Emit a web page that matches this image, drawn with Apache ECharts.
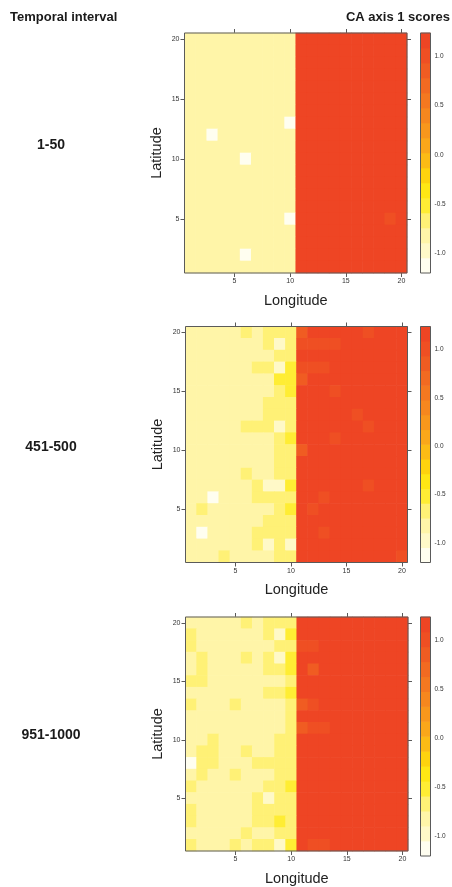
<!DOCTYPE html>
<html>
<head>
<meta charset="utf-8">
<script src="https://cdn.jsdelivr.net/npm/echarts@6/dist/echarts.min.js"></script>
<style>
  html, body { margin: 0; padding: 0; background: #ffffff; }
  #main { width: 452px; height: 887px; }
</style>
</head>
<body>
<div id="main"></div>
<script>
// Temporal intervals shown, one heat map per interval
const intervals = ['1-50', '451-500', '951-1000'];

// Grid cell coordinates
const longitudes = ['1','2','3','4','5','6','7','8','9','10','11','12','13','14','15','16','17','18','19','20'];
const latitudes  = ['1','2','3','4','5','6','7','8','9','10','11','12','13','14','15','16','17','18','19','20'];

// CA axis 1 scores, one row per latitude from 20 (first) down to 1 (last), longitudes 1..20
const scoresEarly = [
  [-0.82,-0.82,-0.82,-0.82,-0.82,-0.82,-0.82,-0.82,-0.82,-0.82, 1.16,1.16,1.16,1.16,1.16,1.16,1.16,1.16,1.16,1.16],
  [-0.82,-0.82,-0.82,-0.82,-0.82,-0.82,-0.82,-0.82,-0.82,-0.82, 1.16,1.16,1.16,1.16,1.16,1.16,1.16,1.16,1.16,1.16],
  [-0.82,-0.82,-0.82,-0.82,-0.82,-0.82,-0.82,-0.82,-0.82,-0.82, 1.16,1.16,1.16,1.16,1.16,1.16,1.16,1.16,1.16,1.16],
  [-0.82,-0.82,-0.82,-0.82,-0.82,-0.82,-0.82,-0.82,-0.82,-0.82, 1.16,1.16,1.16,1.16,1.16,1.16,1.16,1.16,1.16,1.16],
  [-0.82,-0.82,-0.82,-0.82,-0.82,-0.82,-0.82,-0.82,-0.82,-0.82, 1.16,1.16,1.16,1.16,1.16,1.16,1.16,1.16,1.16,1.16],
  [-0.82,-0.82,-0.82,-0.82,-0.82,-0.82,-0.82,-0.82,-0.82,-0.82, 1.16,1.16,1.16,1.16,1.16,1.16,1.16,1.16,1.16,1.16],
  [-0.82,-0.82,-0.82,-0.82,-0.82,-0.82,-0.82,-0.82,-0.82,-0.82, 1.16,1.16,1.16,1.16,1.16,1.16,1.16,1.16,1.16,1.16],
  [-0.82,-0.82,-0.82,-0.82,-0.82,-0.82,-0.82,-0.82,-0.82,-1.12, 1.16,1.16,1.16,1.16,1.16,1.16,1.16,1.16,1.16,1.16],
  [-0.82,-0.82,-1.12,-0.82,-0.82,-0.82,-0.82,-0.82,-0.82,-0.82, 1.16,1.16,1.16,1.16,1.16,1.16,1.16,1.16,1.16,1.16],
  [-0.82,-0.82,-0.82,-0.82,-0.82,-0.82,-0.82,-0.82,-0.82,-0.82, 1.16,1.16,1.16,1.16,1.16,1.16,1.16,1.16,1.16,1.16],
  [-0.82,-0.82,-0.82,-0.82,-0.82,-1.12,-0.82,-0.82,-0.82,-0.82, 1.16,1.16,1.16,1.16,1.16,1.16,1.16,1.16,1.16,1.16],
  [-0.82,-0.82,-0.82,-0.82,-0.82,-0.82,-0.82,-0.82,-0.82,-0.82, 1.16,1.16,1.16,1.16,1.16,1.16,1.16,1.16,1.16,1.16],
  [-0.82,-0.82,-0.82,-0.82,-0.82,-0.82,-0.82,-0.82,-0.82,-0.82, 1.16,1.16,1.16,1.16,1.16,1.16,1.16,1.16,1.16,1.16],
  [-0.82,-0.82,-0.82,-0.82,-0.82,-0.82,-0.82,-0.82,-0.82,-0.82, 1.16,1.16,1.16,1.16,1.16,1.16,1.16,1.16,1.16,1.16],
  [-0.82,-0.82,-0.82,-0.82,-0.82,-0.82,-0.82,-0.82,-0.82,-0.82, 1.16,1.16,1.16,1.16,1.16,1.16,1.16,1.16,1.16,1.16],
  [-0.82,-0.82,-0.82,-0.82,-0.82,-0.82,-0.82,-0.82,-0.82,-1.12, 1.16,1.16,1.16,1.16,1.16,1.16,1.16,1.16,1.01,1.16],
  [-0.82,-0.82,-0.82,-0.82,-0.82,-0.82,-0.82,-0.82,-0.82,-0.82, 1.16,1.16,1.16,1.16,1.16,1.16,1.16,1.16,1.16,1.16],
  [-0.82,-0.82,-0.82,-0.82,-0.82,-0.82,-0.82,-0.82,-0.82,-0.82, 1.16,1.16,1.16,1.16,1.16,1.16,1.16,1.16,1.16,1.16],
  [-0.82,-0.82,-0.82,-0.82,-0.82,-1.12,-0.82,-0.82,-0.82,-0.82, 1.16,1.16,1.16,1.16,1.16,1.16,1.16,1.16,1.16,1.16],
  [-0.82,-0.82,-0.82,-0.82,-0.82,-0.82,-0.82,-0.82,-0.82,-0.82, 1.16,1.16,1.16,1.16,1.16,1.16,1.16,1.16,1.16,1.16]
];

const scoresMid = [
  [-0.82,-0.82,-0.82,-0.82,-0.82,-0.67,-0.82,-0.67,-0.67,-0.67, 0.86,1.16,1.16,1.16,1.16,1.16,1.01,1.16,1.16,1.16],
  [-0.82,-0.82,-0.82,-0.82,-0.82,-0.82,-0.82,-0.67,-0.97,-0.67, 1.01,1.01,1.01,1.01,1.16,1.16,1.16,1.16,1.16,1.16],
  [-0.82,-0.82,-0.82,-0.82,-0.82,-0.82,-0.82,-0.82,-0.67,-0.67, 1.16,1.16,1.16,1.16,1.16,1.16,1.16,1.16,1.16,1.16],
  [-0.82,-0.82,-0.82,-0.82,-0.82,-0.82,-0.67,-0.67,-0.97,-0.52, 1.01,1.01,1.01,1.16,1.16,1.16,1.16,1.16,1.16,1.16],
  [-0.82,-0.82,-0.82,-0.82,-0.82,-0.82,-0.82,-0.82,-0.52,-0.52, 0.86,1.16,1.16,1.16,1.16,1.16,1.16,1.16,1.16,1.16],
  [-0.82,-0.82,-0.82,-0.82,-0.82,-0.82,-0.82,-0.82,-0.67,-0.52, 1.16,1.16,1.16,1.01,1.16,1.16,1.16,1.16,1.16,1.16],
  [-0.82,-0.82,-0.82,-0.82,-0.82,-0.82,-0.82,-0.67,-0.67,-0.67, 1.16,1.16,1.16,1.16,1.16,1.16,1.16,1.16,1.16,1.16],
  [-0.82,-0.82,-0.82,-0.82,-0.82,-0.82,-0.82,-0.67,-0.67,-0.67, 1.16,1.16,1.16,1.16,1.16,1.01,1.16,1.16,1.16,1.16],
  [-0.82,-0.82,-0.82,-0.82,-0.82,-0.67,-0.67,-0.67,-0.97,-0.67, 1.16,1.16,1.16,1.16,1.16,1.16,1.01,1.16,1.16,1.16],
  [-0.82,-0.82,-0.82,-0.82,-0.82,-0.82,-0.82,-0.82,-0.67,-0.52, 1.16,1.16,1.16,1.01,1.16,1.16,1.16,1.16,1.16,1.16],
  [-0.82,-0.82,-0.82,-0.82,-0.82,-0.82,-0.82,-0.82,-0.67,-0.67, 0.86,1.16,1.16,1.16,1.16,1.16,1.16,1.16,1.16,1.16],
  [-0.82,-0.82,-0.82,-0.82,-0.82,-0.82,-0.82,-0.82,-0.67,-0.67, 1.16,1.16,1.16,1.16,1.16,1.16,1.16,1.16,1.16,1.16],
  [-0.82,-0.82,-0.82,-0.82,-0.82,-0.67,-0.82,-0.82,-0.67,-0.67, 1.16,1.16,1.16,1.16,1.16,1.16,1.16,1.16,1.16,1.16],
  [-0.82,-0.82,-0.82,-0.82,-0.82,-0.82,-0.67,-0.97,-0.97,-0.52, 1.16,1.16,1.16,1.16,1.16,1.16,1.01,1.16,1.16,1.16],
  [-0.82,-0.82,-1.12,-0.82,-0.82,-0.82,-0.67,-0.67,-0.67,-0.67, 1.16,1.16,1.01,1.16,1.16,1.16,1.16,1.16,1.16,1.16],
  [-0.82,-0.67,-0.82,-0.82,-0.82,-0.82,-0.82,-0.82,-0.67,-0.52, 1.16,1.01,1.16,1.16,1.16,1.16,1.16,1.16,1.16,1.16],
  [-0.82,-0.82,-0.82,-0.82,-0.82,-0.82,-0.82,-0.67,-0.67,-0.67, 1.16,1.16,1.16,1.16,1.16,1.16,1.16,1.16,1.16,1.16],
  [-0.82,-1.12,-0.82,-0.82,-0.82,-0.82,-0.67,-0.67,-0.67,-0.67, 1.16,1.16,1.01,1.16,1.16,1.16,1.16,1.16,1.16,1.16],
  [-0.82,-0.82,-0.82,-0.82,-0.82,-0.82,-0.67,-0.97,-0.67,-0.97, 1.16,1.16,1.16,1.16,1.16,1.16,1.16,1.16,1.16,1.16],
  [-0.82,-0.82,-0.82,-0.67,-0.82,-0.82,-0.82,-0.82,-0.67,-0.67, 1.16,1.16,1.16,1.16,1.16,1.16,1.16,1.16,1.16,1.01]
];

const scoresLate = [
  [-0.82,-0.82,-0.82,-0.82,-0.82,-0.67,-0.82,-0.67,-0.67,-0.67, 1.16,1.16,1.16,1.16,1.16,1.16,1.16,1.16,1.16,1.16],
  [-0.67,-0.82,-0.82,-0.82,-0.82,-0.82,-0.82,-0.67,-0.97,-0.52, 1.16,1.16,1.16,1.16,1.16,1.16,1.16,1.16,1.16,1.16],
  [-0.67,-0.82,-0.82,-0.82,-0.82,-0.82,-0.82,-0.82,-0.67,-0.67, 1.01,1.01,1.16,1.16,1.16,1.16,1.16,1.16,1.16,1.16],
  [-0.82,-0.67,-0.82,-0.82,-0.82,-0.67,-0.82,-0.67,-0.97,-0.52, 1.16,1.16,1.16,1.16,1.16,1.16,1.16,1.16,1.16,1.16],
  [-0.82,-0.67,-0.82,-0.82,-0.82,-0.82,-0.82,-0.67,-0.67,-0.52, 1.16,0.86,1.16,1.16,1.16,1.16,1.16,1.16,1.16,1.16],
  [-0.67,-0.67,-0.82,-0.82,-0.82,-0.82,-0.82,-0.82,-0.82,-0.67, 1.16,1.16,1.16,1.16,1.16,1.16,1.16,1.16,1.16,1.16],
  [-0.82,-0.82,-0.82,-0.82,-0.82,-0.82,-0.82,-0.67,-0.67,-0.52, 1.16,1.16,1.16,1.16,1.16,1.16,1.16,1.16,1.16,1.16],
  [-0.67,-0.82,-0.82,-0.82,-0.67,-0.82,-0.82,-0.82,-0.82,-0.67, 0.86,1.01,1.16,1.16,1.16,1.16,1.16,1.16,1.16,1.16],
  [-0.82,-0.82,-0.82,-0.82,-0.82,-0.82,-0.82,-0.82,-0.82,-0.67, 1.16,1.16,1.16,1.16,1.16,1.16,1.16,1.16,1.16,1.16],
  [-0.82,-0.82,-0.82,-0.82,-0.82,-0.82,-0.82,-0.82,-0.82,-0.67, 0.86,1.01,1.01,1.16,1.16,1.16,1.16,1.16,1.16,1.16],
  [-0.82,-0.82,-0.67,-0.82,-0.82,-0.82,-0.82,-0.82,-0.67,-0.67, 1.16,1.16,1.16,1.16,1.16,1.16,1.16,1.16,1.16,1.16],
  [-0.82,-0.67,-0.67,-0.82,-0.82,-0.67,-0.82,-0.82,-0.67,-0.67, 1.16,1.16,1.16,1.16,1.16,1.16,1.16,1.16,1.16,1.16],
  [-1.12,-0.67,-0.67,-0.82,-0.82,-0.82,-0.67,-0.67,-0.67,-0.67, 1.16,1.16,1.16,1.16,1.16,1.16,1.16,1.16,1.16,1.16],
  [-0.82,-0.67,-0.82,-0.82,-0.67,-0.82,-0.82,-0.82,-0.67,-0.67, 1.16,1.16,1.16,1.16,1.16,1.16,1.16,1.16,1.16,1.16],
  [-0.67,-0.82,-0.82,-0.82,-0.82,-0.82,-0.82,-0.67,-0.67,-0.52, 1.16,1.16,1.16,1.16,1.16,1.16,1.16,1.16,1.16,1.16],
  [-0.82,-0.82,-0.82,-0.82,-0.82,-0.82,-0.67,-0.97,-0.67,-0.67, 1.16,1.16,1.16,1.16,1.16,1.16,1.16,1.16,1.16,1.16],
  [-0.67,-0.82,-0.82,-0.82,-0.82,-0.82,-0.67,-0.67,-0.67,-0.67, 1.16,1.16,1.16,1.16,1.16,1.16,1.16,1.16,1.16,1.16],
  [-0.67,-0.82,-0.82,-0.82,-0.82,-0.82,-0.67,-0.67,-0.52,-0.67, 1.16,1.16,1.16,1.16,1.16,1.16,1.16,1.16,1.16,1.16],
  [-0.82,-0.82,-0.82,-0.82,-0.82,-0.67,-0.82,-0.82,-0.67,-0.67, 1.16,1.16,1.16,1.16,1.16,1.16,1.16,1.16,1.16,1.16],
  [-0.67,-0.82,-0.82,-0.82,-0.67,-0.82,-0.67,-0.67,-0.97,-0.52, 1.16,1.01,1.01,1.16,1.16,1.16,1.16,1.16,1.16,1.16]
];

// Score range covered by each colour key
const scaleMin = [-1.2, -1.2, -1.2];
const scaleMax = [1.236, 1.236, 1.236];

// Labelled values on the colour keys
const keyTicks = [-1.0, -0.5, 0.0, 0.5, 1.0];

// Sixteen colour levels, lowest score first
const levelColors = [
  '#fffef0', '#fff9c8', '#fff5a8', '#fff176', '#ffed34', '#ffe714', '#fed30e', '#fcbb15',
  '#faa71a', '#f8971c', '#f6871e', '#f47820', '#f26a21', '#f05c22', '#ef4f23', '#ee4524'
];

const allScores = [scoresEarly, scoresMid, scoresLate];

// Pixel placement of the three map panels and their colour keys
const panels = [
  { left: 184.5, top: 33,    width: 222.5, height: 240, labelY: 145 },
  { left: 185.5, top: 326.5, width: 222,   height: 236, labelY: 447 },
  { left: 185.5, top: 617,   width: 222.5, height: 239, labelY: 735 }
];
const keyLeft = 420.5, keyWidth = 10;

const FONT = 'Liberation Sans, Arial, sans-serif';
const FRAME = '#5a5a5a';
const TICK_EVERY_FIVE = (i) => (i + 1) % 5 === 0;

const grid = [], xAxis = [], yAxis = [], series = [], visualMap = [], graphic = [];

allScores.forEach((rows, p) => {
  const pos = panels[p];
  const lo = scaleMin[p], hi = scaleMax[p];
  const step = (hi - lo) / levelColors.length;

  // map panel grid and colour-key grid
  grid.push({ left: pos.left, top: pos.top, width: pos.width, height: pos.height,
              show: true, borderColor: FRAME, borderWidth: 1, backgroundColor: 'transparent', z: 5 });
  grid.push({ left: keyLeft, top: pos.top, width: keyWidth, height: pos.height,
              show: true, borderColor: FRAME, borderWidth: 1, backgroundColor: 'transparent', z: 5 });

  const g = p * 2;
  const tickStyle = { show: true, interval: TICK_EVERY_FIVE, alignWithLabel: true, length: 4,
                      inside: false, lineStyle: { color: FRAME, width: 1 } };

  // bottom (labelled) and top (ticks only) longitude axes
  xAxis.push({
    type: 'category', gridIndex: g, data: longitudes, position: 'bottom',
    axisLine: { show: false }, axisTick: tickStyle,
    axisLabel: { interval: TICK_EVERY_FIVE, fontSize: 7, color: '#333', fontFamily: FONT, margin: 5 },
    splitLine: { show: false },
    name: 'Longitude', nameLocation: 'middle', nameGap: 20,
    nameTextStyle: { fontSize: 14.5, color: '#222', fontFamily: FONT }
  });
  xAxis.push({
    type: 'category', gridIndex: g, data: longitudes, position: 'top',
    axisLine: { show: false }, axisTick: tickStyle, axisLabel: { show: false }, splitLine: { show: false }
  });
  xAxis.push({ type: 'value', gridIndex: g + 1, min: 0, max: 1, show: false });

  // left (labelled) and right (ticks only) latitude axes
  yAxis.push({
    type: 'category', gridIndex: g, data: latitudes, position: 'left',
    axisLine: { show: false }, axisTick: tickStyle,
    axisLabel: { interval: TICK_EVERY_FIVE, fontSize: 7, color: '#333', fontFamily: FONT, margin: 5 },
    splitLine: { show: false },
    name: 'Latitude', nameLocation: 'middle', nameGap: 20,
    nameTextStyle: { fontSize: 14.5, color: '#222', fontFamily: FONT }
  });
  yAxis.push({
    type: 'category', gridIndex: g, data: latitudes, position: 'right',
    axisLine: { show: false }, axisTick: tickStyle, axisLabel: { show: false }, splitLine: { show: false }
  });
  yAxis.push({
    type: 'value', gridIndex: g + 1, min: lo, max: hi, position: 'right',
    axisLine: { show: false }, splitLine: { show: false },
    axisTick: { show: true, customValues: keyTicks, length: 3, lineStyle: { color: FRAME } },
    axisLabel: { customValues: keyTicks, fontSize: 6.5, color: '#333', fontFamily: FONT, margin: 4,
                 formatter: (v) => v.toFixed(1) }
  });

  const cellData = [];
  rows.forEach((row, r) => {
    row.forEach((v, c) => cellData.push([c, latitudes.length - 1 - r, v]));
  });

  // map cells: one rectangle per grid cell, coloured by the level its score falls in
  const cellIndex = series.length;
  series.push({
    type: 'custom', xAxisIndex: p * 3, yAxisIndex: p * 3, data: cellData, silent: true,
    encode: { x: 0, y: 1 },
    renderItem: (params, api) => {
      const centre = api.coord([api.value(0), api.value(1)]);
      const size = api.size([1, 1]);
      return { type: 'rect',
               shape: { x: centre[0] - size[0] / 2 - 0.3, y: centre[1] - size[1] / 2 - 0.3,
                        width: size[0] + 0.6, height: size[1] + 0.6 },
               style: { fill: api.visual('color') } };
    }
  });

  // colour key: one rectangle per level
  const keyData = levelColors.map((_, i) => [lo + i * step, lo + (i + 1) * step, i]);
  series.push({
    type: 'custom', xAxisIndex: p * 3 + 2, yAxisIndex: p * 3 + 2, data: keyData, silent: true,
    renderItem: (params, api) => {
      const a = api.coord([0, api.value(1)]);
      const b = api.coord([1, api.value(0)]);
      return { type: 'rect', shape: { x: a[0], y: a[1] - 0.3, width: b[0] - a[0], height: b[1] - a[1] + 0.6 },
               style: { fill: levelColors[api.value(2)] } };
    }
  });

  visualMap.push({
    type: 'piecewise', show: false, seriesIndex: cellIndex, dimension: 2,
    pieces: levelColors.map((col, i) => i === levelColors.length - 1
      ? { gte: lo + i * step, lte: hi + 1, color: col }
      : { gte: lo + i * step, lt: lo + (i + 1) * step, color: col })
  });

  graphic.push({
    type: 'text', x: 51, y: pos.labelY,
    style: { text: intervals[p], font: 'bold 14px ' + FONT, fill: '#1a1a1a',
             textAlign: 'center', textVerticalAlign: 'middle' }
  });
});

graphic.push({
  type: 'text', x: 10, y: 17,
  style: { text: 'Temporal interval', font: 'bold 13px ' + FONT, fill: '#1a1a1a', textVerticalAlign: 'middle' }
});
graphic.push({
  type: 'text', x: 450, y: 17,
  style: { text: 'CA axis 1 scores', font: 'bold 13px ' + FONT, fill: '#1a1a1a',
           textAlign: 'right', textVerticalAlign: 'middle' }
});

const chart = echarts.init(document.getElementById('main'), null, { renderer: 'canvas' });
chart.setOption({
  animation: false,
  backgroundColor: '#ffffff',
  grid, xAxis, yAxis, series, visualMap, graphic
});
</script>
</body>
</html>
